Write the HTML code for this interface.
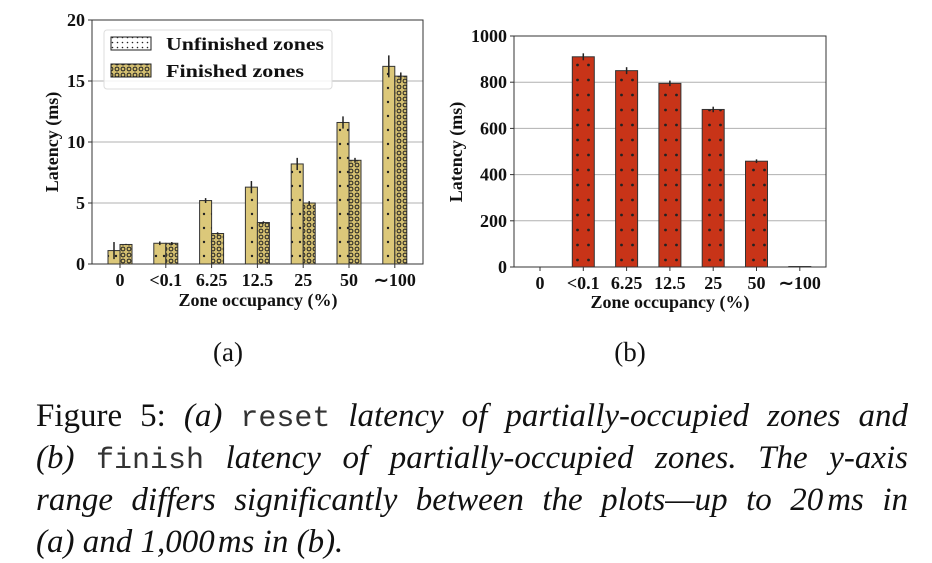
<!DOCTYPE html>
<html><head><meta charset="utf-8">
<style>
body{margin:0;background:#fff;width:932px;height:563px;overflow:hidden;position:relative;font-family:"Liberation Serif",serif}
svg{position:absolute;left:0;top:0}
.cap{position:absolute;left:36px;width:872px;font-size:33px;line-height:42px;font-style:italic;text-align:justify;text-align-last:justify;white-space:nowrap;color:#111}
.cap.last{text-align-last:left}
.mono{font-family:"Liberation Mono",monospace;font-style:normal;font-size:30px;color:#333}
.up{font-style:normal}
</style></head><body>
<svg id="chart" width="932" height="563">
<defs>
<pattern id="dotsA" width="8" height="14" patternUnits="userSpaceOnUse"><rect width="8" height="14" fill="#dcc87a"/><circle cx="4" cy="4" r="1.2" fill="#222"/></pattern>
<pattern id="ringsA" width="6" height="6" patternUnits="userSpaceOnUse"><rect width="6" height="6" fill="#d4bf70"/><circle cx="3" cy="3" r="1.9" fill="none" stroke="#222" stroke-width="1"/></pattern>
<pattern id="dotsB" width="11" height="15" patternUnits="userSpaceOnUse"><rect width="11" height="15" fill="#c83418"/><circle cx="5.5" cy="5" r="1.4" fill="#222"/></pattern>
<pattern id="dotsL" width="5" height="5" patternUnits="userSpaceOnUse"><rect width="5" height="5" fill="#fff"/><circle cx="2.5" cy="2.5" r="0.8" fill="#222"/></pattern>
</defs>
</svg>
<div class="cap" style="top:395px"><span class="up">Figure 5:</span> (a) <span class="mono">reset</span> latency of partially-occupied zones and</div>
<div class="cap" style="top:437px">(b) <span class="mono">finish</span> latency of partially-occupied zones. The y-axis</div>
<div class="cap" style="top:479px">range differs significantly between the plots—up to 20<span style="margin-left:4px">ms in</span></div>
<div class="cap last" style="top:521px">(a) and 1,000<span style="margin-left:3px">ms in (b).</span></div>
<script>
const categories=["0","<0.1","6.25","12.5","25","50","~100"];
const unfinished=[1.1,1.7,5.2,6.3,8.2,11.6,16.2];
const unfinishedErr=[0.7,0.15,0.2,0.5,0.5,0.5,0.9];
const finished=[1.6,1.7,2.5,3.4,5.0,8.5,15.4];
const finishedErr=[0.05,0.1,0.1,0.1,0.15,0.2,0.3];
const ticksA=[0,5,10,15,20];
const finishLat=[0,910,850,795,682,458,2];
const finishErr=[0,15,15,12,12,8,0];
const ticksB=[0,200,400,600,800,1000];
const svg=document.getElementById('chart');
const NS='http://www.w3.org/2000/svg';
function mk(t,a,p){const e=document.createElementNS(NS,t);for(const k in a)e.setAttribute(k,a[k]);(p||svg).appendChild(e);return e;}
function txt(x,y,s,size,anchor,p){const e=mk('text',{x:x,y:y,'font-size':size,'text-anchor':anchor||'middle','font-weight':'bold','font-family':'Liberation Serif, serif',fill:'#111'},p);e.textContent=s;return e;}
function axes(g,L,R,T,B,max,ticks,xc){
  const y=v=>B-(v/max)*(B-T);
  ticks.forEach(t=>{ if(t>0&&t<max){const l=mk('line',{x1:L,x2:R,y1:y(t),y2:y(t),stroke:'#b0b0b0','stroke-width':1},g);}
    mk('line',{x1:L-4,x2:L,y1:y(t),y2:y(t),stroke:'#333'},g);
    const tl=txt(L-7,y(t)+6,String(t),18,'end',g);});
  categories.forEach((c,i)=>{mk('line',{x1:xc(i),x2:xc(i),y1:B,y2:B+4,stroke:'#333'},g);
    const tl=txt(xc(i),B+22,c.replace('~','∼'),18,'middle',g);});
  return y;
}
function bar(g,x,w,v0,y,fill,name){const r=mk('rect',{x:x,y:y(v0),width:w,height:y(0)-y(v0),fill:fill,stroke:'#333','stroke-width':1},g);}
function err(g,x,v,e,y){if(e>0)mk('line',{x1:x,x2:x,y1:y(v+e),y2:y(v-e),stroke:'#222','stroke-width':1.5},g);}
const gA=mk('g',{});
const LA=92,RA=423,TA=20,BA=264;
const xA=i=>120+i*45.8;
const yA=axes(gA,LA,RA,TA,BA,20,ticksA,xA);
categories.forEach((c,i)=>{bar(gA,xA(i)-12,12,unfinished[i],yA,'url(#dotsA)','bar-unfinished');bar(gA,xA(i),12,finished[i],yA,'url(#ringsA)','bar-finished');
  err(gA,xA(i)-6,unfinished[i],unfinishedErr[i],yA);err(gA,xA(i)+6,finished[i],finishedErr[i],yA);});
mk('rect',{x:LA,y:TA,width:RA-LA,height:BA-TA,fill:'none',stroke:'#333','stroke-width':1},gA);
const lg=mk('g',{},gA);
mk('rect',{x:104,y:30,width:228,height:59,rx:3,fill:'#fff','fill-opacity':0.85,stroke:'#ddd'},lg);
mk('rect',{x:111,y:37,width:40,height:13,fill:'url(#dotsL)',stroke:'#222'},lg);
mk('rect',{x:111,y:64,width:40,height:13,fill:'url(#ringsA)',stroke:'#222'},lg);
const l1=txt(166,50,'Unfinished zones',18,'start',lg);l1.setAttribute('textLength','158');l1.setAttribute('lengthAdjust','spacingAndGlyphs');
const l2=txt(166,77,'Finished zones',18,'start',lg);l2.setAttribute('textLength','138');l2.setAttribute('lengthAdjust','spacingAndGlyphs');
const xtA=txt(258,306,'Zone occupancy (%)',18,'middle',gA);
const ytA=txt(0,0,'Latency (ms)',18,'middle',gA);ytA.setAttribute('transform','translate(58,142) rotate(-90)');
const gB=mk('g',{});
const LB=514,RB=826,TB=36,BB=267;
const xB=i=>540+i*43.3;
const yB=axes(gB,LB,RB,TB,BB,1000,ticksB,xB);
categories.forEach((c,i)=>{bar(gB,xB(i)-11,22,finishLat[i],yB,'url(#dotsB)','bar-finish-latency');err(gB,xB(i),finishLat[i],finishErr[i],yB);});
mk('rect',{x:LB,y:TB,width:RB-LB,height:BB-TB,fill:'none',stroke:'#333','stroke-width':1},gB);
const xtB=txt(670,308,'Zone occupancy (%)',18,'middle',gB);
const ytB=txt(0,0,'Latency (ms)',18,'middle',gB);ytB.setAttribute('transform','translate(462,152) rotate(-90)');
const sa=mk('text',{x:228,y:361,'font-size':27,'text-anchor':'middle','font-family':'Liberation Serif, serif',fill:'#111'});sa.textContent='(a)';
const sb=mk('text',{x:630,y:361,'font-size':27,'text-anchor':'middle','font-family':'Liberation Serif, serif',fill:'#111'});sb.textContent='(b)';
</script>
</body></html>
